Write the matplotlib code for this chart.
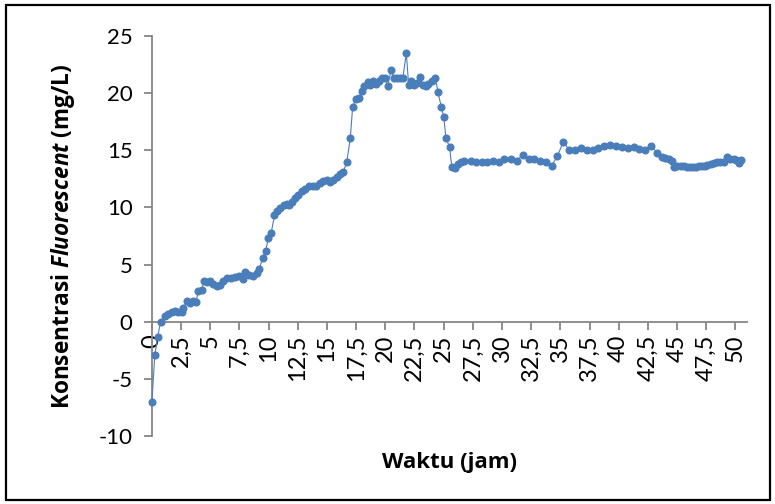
import matplotlib
matplotlib.use("Agg")
import matplotlib.pyplot as plt
from matplotlib.patches import Rectangle

# data
waktu = [0.0, 0.25, 0.5, 0.75, 1.1, 1.4, 1.7, 2.0, 2.25, 2.55, 2.7, 2.97, 3.26, 3.54, 3.77,
         3.97, 4.26, 4.45, 4.75, 4.97, 5.26, 5.54, 5.8, 6.12, 6.4, 6.75, 7.1, 7.5, 7.77, 7.97,
         8.35, 8.7, 8.97, 9.2, 9.5, 9.75, 9.97, 10.23, 10.5, 10.7, 11.0, 11.3, 11.55, 11.77, 11.98,
         12.26, 12.55, 12.83, 13.1, 13.46, 13.83, 14.1, 14.4, 14.7, 15.0, 15.3, 15.55, 15.84, 16.1,
         16.4, 16.7, 17.0, 17.2, 17.47, 17.75, 17.98, 18.2, 18.5, 18.7, 18.97, 19.2, 19.5, 19.7,
         20.0, 20.2, 20.5, 20.75, 21.0, 21.3, 21.5, 21.8, 22.0, 22.2, 22.5, 22.7, 23.0, 23.2,
         23.5, 23.7, 24.0, 24.3, 24.5, 24.8, 25.0, 25.2, 25.5, 25.7, 26.0, 26.2, 26.5, 26.76,
         27.3, 27.75, 28.3, 28.75, 29.27, 29.75, 30.2, 30.75, 31.27, 31.76, 32.27, 32.75, 33.27,
         33.76, 34.25, 34.74, 35.25, 35.76, 36.25, 36.77, 37.25, 37.76, 38.25, 38.77, 39.28,
         39.77, 40.28, 40.76, 41.28, 41.77, 42.28, 42.77, 43.25, 43.74, 44.0, 44.3, 44.56,
         44.77, 45.0, 45.3, 45.57, 45.86, 46.08, 46.34, 46.6, 46.86, 47.1, 47.35, 47.6, 47.87,
         48.13, 48.4, 48.7, 48.98, 49.3, 49.57, 49.85, 50.08, 50.3, 50.5]
konsentrasi = [-7.0, -2.9, -1.3, 0.0, 0.47, 0.7, 0.82, 0.95, 0.88, 0.85, 1.2, 1.78, 1.63, 1.84, 1.69,
               2.65, 2.74, 3.53, 3.5, 3.53, 3.3, 3.09, 3.2, 3.53, 3.82, 3.8, 3.88, 4.0, 3.76, 4.34,
               4.1, 3.96, 4.25, 4.6, 5.6, 6.2, 7.3, 7.8, 9.3, 9.65, 9.94, 10.2, 10.3, 10.2, 10.5,
               10.8, 11.1, 11.4, 11.6, 11.83, 11.9, 11.9, 12.1, 12.3, 12.4, 12.2, 12.4, 12.65, 12.9,
               13.1, 14.0, 16.05, 18.8, 19.5, 19.6, 20.2, 20.6, 20.95, 20.7, 21.1, 20.8, 21.1, 21.3,
               21.3, 20.65, 22.0, 21.3, 21.3, 21.3, 21.3, 23.5, 20.7, 21.1, 20.75, 20.9, 21.4, 20.7,
               20.6, 20.8, 21.1, 21.35, 20.1, 18.8, 17.95, 16.05, 15.3, 13.55, 13.46, 13.8, 13.96, 14.07,
               14.1, 14.0, 13.93, 14.0, 14.1, 14.0, 14.2, 14.2, 14.07, 14.6, 14.2, 14.2, 14.07,
               13.96, 13.6, 14.5, 15.7, 15.06, 15.06, 15.18, 15.06, 14.98, 15.24, 15.4, 15.5,
               15.4, 15.3, 15.2, 15.3, 15.1, 14.98, 15.4, 14.8, 14.45, 14.36, 14.27, 14.1,
               13.5, 13.6, 13.63, 13.63, 13.57, 13.5, 13.57, 13.5, 13.63, 13.63, 13.66, 13.72, 13.8,
               13.87, 14.0, 14.0, 14.0, 14.45, 14.27, 14.2, 14.15, 13.9, 14.15]

x_ticks = [i * 2.5 for i in range(21)]
x_labels = ["0", "2,5", "5", "7,5", "10", "12,5", "15", "17,5", "20", "22,5", "25", "27,5",
            "30", "32,5", "35", "37,5", "40", "42,5", "45", "47,5", "50"]
y_ticks = [-10, -5, 0, 5, 10, 15, 20, 25]

plt.rcParams['font.family'] = ['Lato', 'DejaVu Sans']
plt.rcParams['mathtext.fontset'] = 'custom'
plt.rcParams['mathtext.bfit'] = 'Open Sans:italic:bold'
plt.rcParams['mathtext.bf'] = 'Open Sans:bold'
blue = '#4A7EBB'
grey = '#868686'

fig = plt.figure(figsize=(7.75, 5.04), dpi=100)
fig.patches.append(Rectangle((0.008, 0.008), 0.985, 0.982, transform=fig.transFigure,
                             fill=False, edgecolor='black', linewidth=1.6))
ax = fig.add_axes([0.196, 0.135, 0.768, 0.7936])

# spines first: moving a spine resets the ticks
ax.spines['top'].set_visible(False)
ax.spines['right'].set_visible(False)
ax.spines['bottom'].set_position(('data', 0))
for s in ('left', 'bottom'):
    ax.spines[s].set_color(grey)
    ax.spines[s].set_linewidth(1.3)

ax.plot(waktu, konsentrasi, color=blue, linewidth=0.8, marker='o', markersize=4.8,
        markerfacecolor=blue, markeredgecolor=blue, clip_on=False, zorder=3)

ax.set_xlim(0, 51)
ax.set_ylim(-10, 25)
ax.set_yticks(y_ticks)
ax.set_yticklabels([str(v) for v in y_ticks])
ax.set_xticks(x_ticks)
ax.set_xticklabels(x_labels)

ax.tick_params(axis='both', colors=grey, width=1.3, length=6, direction='out',
               labelcolor='black', labelsize=16)
ax.tick_params(axis='x', pad=3, labelrotation=90, labelsize=17)
ax.tick_params(axis='y', pad=8)

ax.set_xlabel('Waktu (jam)', fontsize=16, fontweight='bold', family='Open Sans')
ax.xaxis.set_label_coords(0.5, -0.04)
ax.set_ylabel('$\\mathbf{Konsentrasi}$ $\\mathbfit{Fluorescent}$ $\\mathbf{(mg/L)}$',
              fontsize=16.3)
ax.yaxis.set_label_coords(-0.125, 0.5)

fig.savefig('out.png', dpi=100)
